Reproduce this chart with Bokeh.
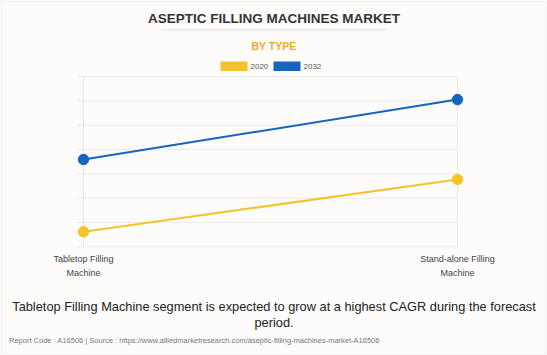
from bokeh.plotting import figure
from bokeh.models import Label, BoxAnnotation, Range1d
from bokeh.embed import file_html
from bokeh.resources import INLINE

# ---- data ----
categories = ["Tabletop Filling Machine", "Stand-alone Filling Machine"]
tick_labels = [["Tabletop Filling", "Machine"], ["Stand-alone Filling", "Machine"]]
years = ["2020", "2032"]
values_2020 = [6.2, 27.7]
values_2032 = [35.9, 60.5]
y_grid = [0, 10, 20, 30, 40, 50, 60, 70]
colors = ["#f4c22b", "#1565c0"]

# ---- layout constants (pixels) ----
W, H = 547, 355
BG = "#fdfcfa"
FONT = "Liberation Sans"
X0_PX, X1_PX = 83, 457          # pixel positions of the two categories
Y0_PX, Y70_PX = 246.3, 76.0     # pixel positions of y=0 and y=70
GRID_LEFT_PX = 77

xs = list(range(len(categories)))
sx = (X1_PX - X0_PX) / (xs[-1] - xs[0])
sy = (Y0_PX - Y70_PX) / (y_grid[-1] - y_grid[0])
x_start = -X0_PX / sx
x_end = (W - X0_PX) / sx
y_start = -(H - Y0_PX) / sy
y_end = Y0_PX / sy
grid_left = (GRID_LEFT_PX - X0_PX) / sx

p = figure(width=W, height=H, output_backend="svg", toolbar_location=None,
           x_range=Range1d(x_start, x_end), y_range=Range1d(y_start, y_end),
           x_axis_location=None, y_axis_location=None,
           min_border=0, min_border_left=0, min_border_right=0,
           min_border_top=0, min_border_bottom=0,
           background_fill_color=BG, border_fill_color=BG,
           outline_line_color=None)
p.grid.visible = False

def box(l, r, t, b, **kw):
    # pixel coordinates from the top-left of the page
    p.add_layout(BoxAnnotation(left=l, right=r, top=H - t, bottom=H - b,
                               left_units="screen", right_units="screen",
                               top_units="screen", bottom_units="screen", **kw))

def lab(x, y, text, size, color, bold=False, align="center", x_units="screen"):
    p.add_layout(Label(x=x, y=H - y, x_units=x_units, y_units="screen", text=text,
                       text_align=align, text_baseline="middle",
                       text_font=FONT, text_font_size=size, text_color=color,
                       text_font_style="bold" if bold else "normal"))

# page border
box(1, 546, 1, 354, fill_alpha=0, line_color="#e2e2e2", line_width=2)

# grid lines (limited to the category span)
p.segment(x0=[grid_left] * len(y_grid), y0=y_grid, x1=[xs[-1]] * len(y_grid), y1=y_grid,
          line_color="#ebebeb", line_width=1)
p.segment(x0=xs, y0=[y_grid[0]] * len(xs), x1=xs, y1=[y_grid[-1]] * len(xs),
          line_color="#e8e8e8", line_width=1)

for vals, c in zip([values_2020, values_2032], colors):
    p.line(xs, vals, line_color=c, line_width=2)
    p.scatter(xs, vals, size=10.5, fill_color=c, line_color=c)

# category (tick) labels
for x, lines in zip(xs, tick_labels):
    for k, t in enumerate(lines):
        lab(x, 258 + 14 * k, t, "9px", "#444444", x_units="data")

# titles
lab(273.5, 18, "ASEPTIC FILLING MACHINES MARKET", "13.5px", "#333333", bold=True)
box(161, 385, 29, 30, fill_color="#dddddd", fill_alpha=1, line_color=None)
lab(273.5, 45, "BY TYPE", "10.5px", "#f5a72c", bold=True)

# legend
sw_left = [220, 273]
for yr, c, l in zip(years, colors, sw_left):
    box(l, l + 27, 61, 70.5, fill_color=c, fill_alpha=1, line_color=None)
    lab(l + 30, 66, yr, "8px", "#555555", align="left")

lab(273.5, 306, "Tabletop Filling Machine segment is expected to grow at a highest CAGR during the forecast",
    "12.8px", "#222222")
lab(273.5, 322, "period.", "12.8px", "#222222")
lab(8.5, 340, "Report Code : A16506  |  Source : https://www.alliedmarketresearch.com/aseptic-filling-machines-market-A16506",
    "7.5px", "#777777", align="left")

open("out.html", "w").write(file_html(p, INLINE))
